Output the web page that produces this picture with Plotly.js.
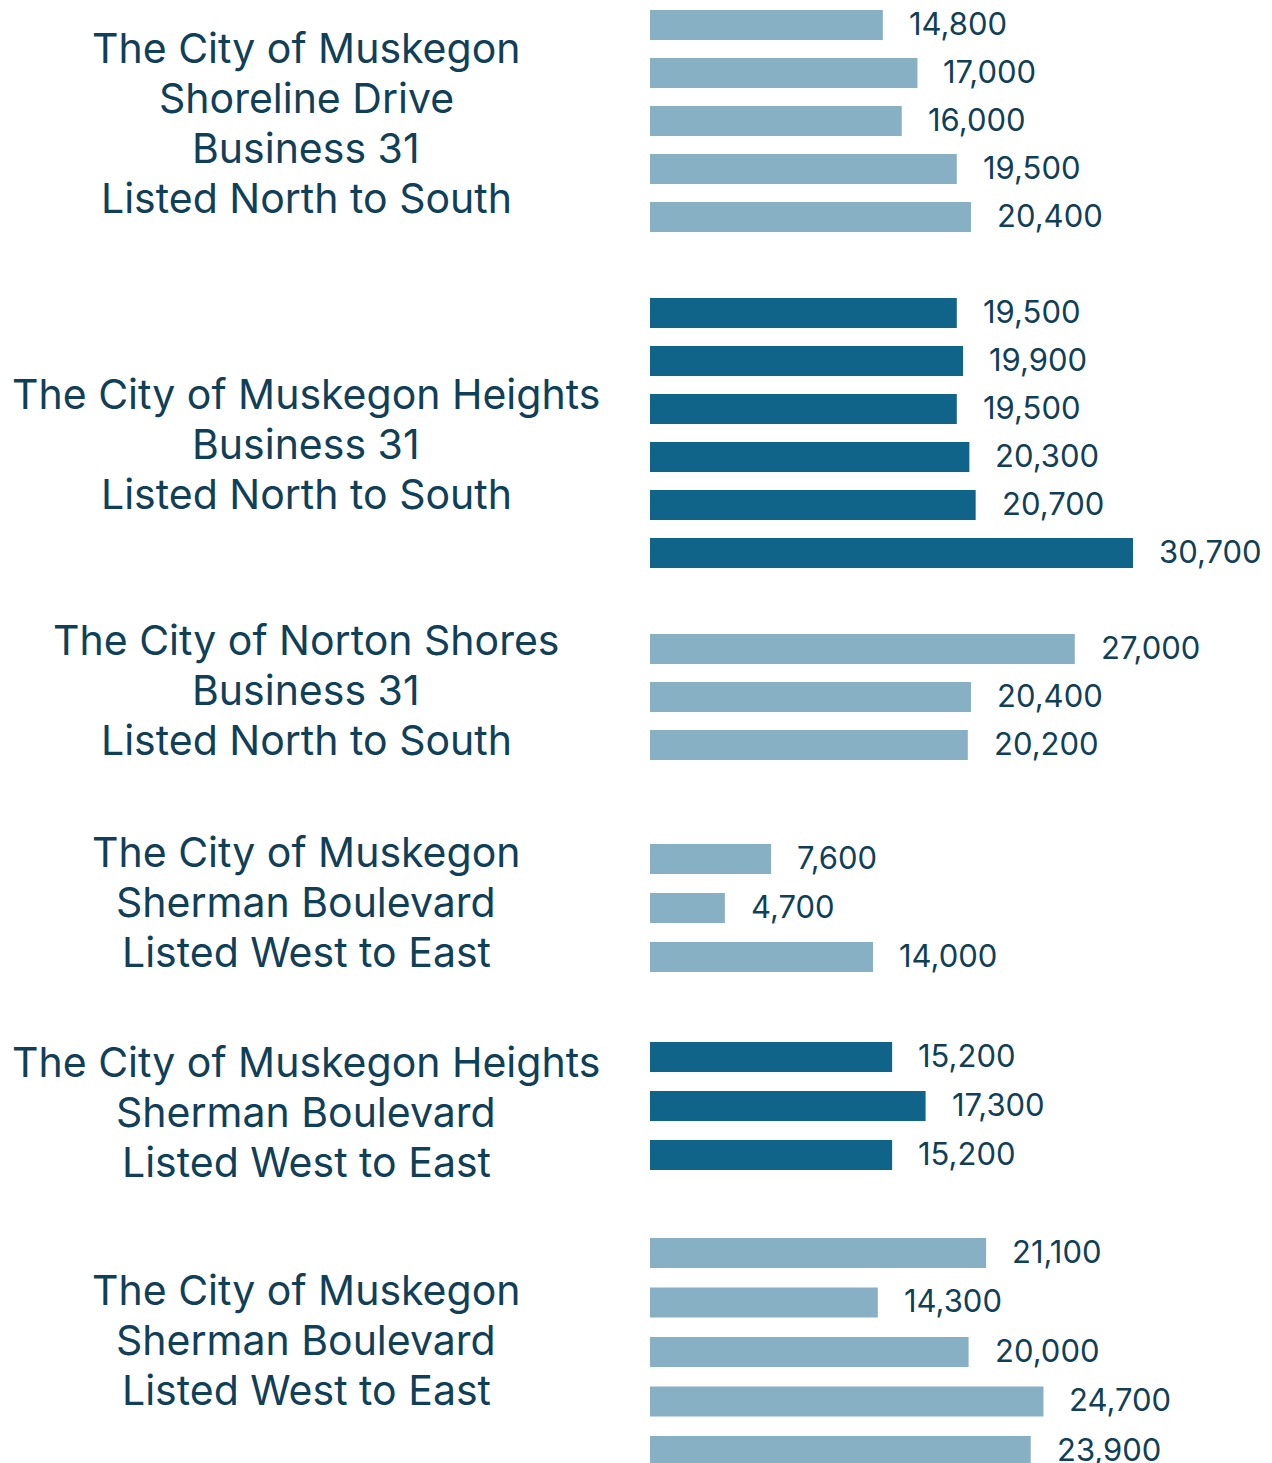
<!DOCTYPE html>
<html>
<head>
<meta charset="utf-8">
<script src="https://cdn.plot.ly/plotly-3.0.1.min.js"></script>
<style>
html, body { margin: 0; padding: 0; background: #ffffff; }
#chart { width: 1272px; height: 1463px; }
</style>
</head>
<body>
<div id="chart"></div>
<script>
// ---- data ----
const groupTitles = [
  ["The City of Muskegon", "Shoreline Drive", "Business 31", "Listed North to South"],
  ["The City of Muskegon Heights", "Business 31", "Listed North to South"],
  ["The City of Norton Shores", "Business 31", "Listed North to South"],
  ["The City of Muskegon", "Sherman Boulevard", "Listed West to East"],
  ["The City of Muskegon Heights", "Sherman Boulevard", "Listed West to East"],
  ["The City of Muskegon", "Sherman Boulevard", "Listed West to East"]
];
const muskegonShoreline = [14800, 17000, 16000, 19500, 20400];
const heightsBusiness31 = [19500, 19900, 19500, 20300, 20700, 30700];
const nortonShoresBusiness31 = [27000, 20400, 20200];
const muskegonSherman1 = [7600, 4700, 14000];
const heightsSherman = [15200, 17300, 15200];
const muskegonSherman2 = [21100, 14300, 20000, 24700, 23900];
const seriesList = [muskegonShoreline, heightsBusiness31, nortonShoresBusiness31,
                    muskegonSherman1, heightsSherman, muskegonSherman2];
const isHeights = [false, true, false, false, true, false];
// Business 31 panels and Sherman Boulevard panels were drawn at slightly different scales
const xAxisOf = ["x", "x", "x", "x2", "x2", "x2"];

// ---- styles / layout geometry (pixels) ----
const W = 1272, H = 1463;
const LIGHT = "#88b0c5", DARK = "#10648a", TEXT = "#0f4058";
const FONT = "Inter, 'Noto Sans', sans-serif";
const bands = [
  [1, 241, 48],
  [289, 577, 48],
  [625, 769, 48],
  [834.5, 981.5, 49],
  [1032.5, 1179.5, 49],
  [1228.25, 1475.75, 49.5]
];
const labelCenters = [123, 444, 690, 902, 1112, 1340];
const lineStep = 50;
const barPx = 30;
const xStart = 650;
const pxPerUnit1 = 483 / 30700;
const pxPerUnit2 = 0.01593;

const fmt = v => v.toLocaleString("en-US");

const traces = [];
const annotations = [];
const layout = {
  width: W, height: H,
  margin: {l: 0, r: 0, t: 0, b: 0, pad: 0},
  paper_bgcolor: "#ffffff", plot_bgcolor: "#ffffff",
  showlegend: false,
  font: {family: FONT, color: TEXT},
  xaxis: {domain: [xStart / W, 1], range: [0, (W - xStart) / pxPerUnit1], visible: false, fixedrange: true, anchor: "y"},
  xaxis2: {domain: [xStart / W, 1], range: [0, (W - xStart) / pxPerUnit2], visible: false, fixedrange: true, anchor: "y4"},
  annotations: annotations
};

seriesList.forEach((vals, g) => {
  const k = g === 0 ? "" : String(g + 1);
  const [top, bot, slot] = bands[g];
  const n = vals.length;
  const clippedBot = Math.min(bot, H);
  const lowRange = (n - 0.5) - (bot - clippedBot) / slot;
  layout["yaxis" + k] = {
    domain: [1 - clippedBot / H, 1 - top / H],
    range: [lowRange, -0.5],
    visible: false, fixedrange: true
  };
  const idx = vals.map((_, i) => i);
  traces.push({
    type: "bar", orientation: "h",
    x: vals, y: idx,
    xaxis: xAxisOf[g], yaxis: "y" + k,
    width: barPx / slot,
    marker: {color: isHeights[g] ? DARK : LIGHT, line: {width: 0}},
    hoverinfo: "skip"
  });
  vals.forEach((v, i) => {
    annotations.push({
      xref: xAxisOf[g], yref: "y" + k, x: v, y: i,
      text: fmt(v), showarrow: false,
      xanchor: "left", yanchor: "middle", xshift: 24, yshift: 2,
      font: {family: FONT, size: 31, color: TEXT}
    });
  });
  const lines = groupTitles[g];
  lines.forEach((ln, j) => {
    const cy = labelCenters[g] + (j - (lines.length - 1) / 2) * lineStep;
    annotations.push({
      xref: "paper", yref: "paper",
      x: 306 / W, y: 1 - cy / H,
      text: ln, showarrow: false,
      xanchor: "center", yanchor: "middle", align: "center",
      font: {family: FONT, size: 41, color: TEXT}
    });
  });
});

Plotly.newPlot("chart", traces, layout, {staticPlot: true, displayModeBar: false});
</script>
</body>
</html>
